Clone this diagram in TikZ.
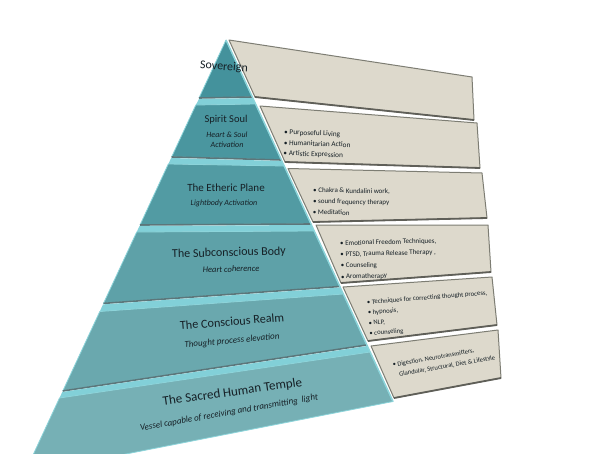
\documentclass[tikz,border=0pt]{standalone}
\usepackage{fontspec}
\setmainfont{Carlito}
\definecolor{tA}{RGB}{68,146,156}
\definecolor{tB}{RGB}{74,150,159}
\definecolor{tC}{RGB}{82,155,163}
\definecolor{tD}{RGB}{94,161,168}
\definecolor{tE}{RGB}{106,168,174}
\definecolor{tF}{RGB}{118,176,181}
\definecolor{stripecol}{RGB}{130,208,216}
\definecolor{tedge}{RGB}{140,212,218}
\definecolor{tshadow}{RGB}{92,118,122}
\definecolor{beige}{RGB}{221,217,204}
\definecolor{pedge}{RGB}{125,125,115}
\definecolor{pshadow}{RGB}{95,95,88}
\definecolor{txt}{RGB}{22,32,38}
\tikzset{
  band/.style={fill=#1, draw=tedge, line width=0.8pt, line join=round},
  bshadow/.style={draw=tshadow, line width=1.6pt},
  stripe/.style={fill=stripecol},
  panel/.style={fill=beige, draw=pedge, line width=1pt, line join=round},
  pbottom/.style={draw=pshadow, line width=1.8pt},
  ttl/.style={font=\fontsize{#1}{#1}\selectfont, text=txt, inner sep=0pt},
  sub/.style={font=\itshape\fontsize{#1}{#1}\selectfont, text=txt, inner sep=0pt},
  item/.style={font=\fontsize{#1}{#1}\selectfont, text=txt, anchor=base west, inner sep=0pt},
}
\begin{document}
\begin{tikzpicture}[x=1pt,y=-1pt]
\useasboundingbox (0,0) rectangle (604,453);
\clip (0,0) rectangle (604,453);
\fill[white] (0,0) rectangle (604,453);

% ---------- beige panels ----------
\path[panel] (229,40) -- (472,77) -- (474,120) -- (255,97) -- cycle;
\draw[pbottom] (255,97) -- (474,120);
\path[panel] (260,106) -- (477,123) -- (480,168) -- (285,162) -- cycle;
\draw[pbottom] (285,162) -- (480,168);
\path[panel] (288,168.5) -- (482,173) -- (487,218) -- (313,222) -- cycle;
\draw[pbottom] (313,222) -- (487,218);
\path[panel] (316,225) -- (488,225) -- (491,272) -- (341,283) -- cycle;
\draw[pbottom] (341,283) -- (491,272);
\path[panel] (343,287) -- (492,277) -- (497,325) -- (368,341) -- cycle;
\draw[pbottom] (368,341) -- (497,325);
\path[panel] (371,346) -- (498,330) -- (501,378) -- (394,398) -- cycle;
\draw[pbottom] (394,398) -- (501,378);

% ---------- teal pyramid bands ----------
\path[band=tA] (226,40) -- (252.3,97) -- (199,98) -- cycle;
\draw[bshadow] (199,98) -- (252.3,97);
\path[stripe] (199,99) -- (252.8,98) -- (255.6,104) -- (195.8,105) -- cycle;

\path[band=tB] (195.8,105) -- (255.6,104) -- (281.4,160) -- (171.6,157) -- cycle;
\draw[bshadow] (171.6,157) -- (281.4,160);
\path[stripe] (171.2,158) -- (281.8,161) -- (284.2,166) -- (168.3,164) -- cycle;

\path[band=tC] (168.3,164) -- (284.2,166) -- (311,224) -- (140,225) -- cycle;
\draw[bshadow] (140,225) -- (311,224);
\path[stripe] (139.5,226) -- (311.4,225) -- (314.2,231) -- (136.7,232) -- cycle;

\path[band=tD] (136.7,232) -- (314.2,231) -- (339.9,286.5) -- (103.5,303.4) -- cycle;
\draw[bshadow] (103.5,303.4) -- (339.9,286.5);
\path[stripe] (103,304.4) -- (340.4,287.5) -- (343.3,294) -- (99.8,311.5) -- cycle;

\path[band=tE] (99.8,311.5) -- (343.3,294) -- (366.6,345) -- (62.8,391) -- cycle;
\draw[bshadow] (62.8,391) -- (366.6,345);
\path[stripe] (62.3,392) -- (367.1,346) -- (370.1,352) -- (59.5,398) -- cycle;

\path[band=tF] (59.5,398) -- (370.1,352) -- (393,401.5) -- (24.2,474) -- cycle;

% light rim along the right edge of the pyramid
\draw[tedge, line width=1.4pt] (226,40) -- (393,401.5);

% ---------- pyramid texts ----------
\node[ttl=12, rotate=-4] (sov) at (224,67) {Sovereign};
\node[ttl=10.5] (sps) at (226,120) {Spirit Soul};
\node[sub=8] (spa) at (227,135) {Heart \& Soul};
\node[sub=8] (spb) at (227,144.5) {Activation};
\node[ttl=11] (eth) at (226,188) {The Etheric Plane};
\node[sub=8] (etha) at (224,203) {Lightbody Activation};
\node[ttl=12, rotate=1.5] (scb) at (229,253) {The Subconscious Body};
\node[sub=8.5, rotate=1.5] (scba) at (231,269) {Heart coherence};
\node[ttl=12.2, rotate=4.6] (csr) at (232,321.5) {The Conscious Realm};
\node[sub=9, rotate=5.3] (csra) at (232,341) {Thought process elevation};
\node[ttl=13, rotate=8] (sht) at (232.5,392.5) {The Sacred Human Temple};
\node[sub=9, rotate=10] (shta) at (229,413) {Vessel capable of receiving and transmitting \ light};

% ---------- panel texts ----------
\begin{scope}[shift={(284,134.5)}, rotate=-2, transform shape]
  \node[item=7.3] (p2a) at (0,0) {\textbullet\ Purposeful Living};
  \node[item=7.3] (p2b) at (0,10.5) {\textbullet\ Humanitarian Action};
  \node[item=7.3] (p2c) at (0,21) {\textbullet\ Artistic Expression};
\end{scope}
\begin{scope}[shift={(313,192.5)}, rotate=-1, transform shape]
  \node[item=7] (p3a) at (0,0) {\textbullet\ Chakra \& Kundalini work,};
  \node[item=7] (p3b) at (0,11) {\textbullet\ sound frequency therapy};
  \node[item=7] (p3c) at (0,22) {\textbullet\ Meditation};
\end{scope}
\begin{scope}[shift={(340,245.5)}, rotate=1.5, transform shape]
  \node[item=7] (p4a) at (0,0) {\textbullet\ Emotional Freedom Techniques,};
  \node[item=7] (p4b) at (0,11.2) {\textbullet\ PTSD, Trauma Release Therapy ,};
  \node[item=7] (p4c) at (0,22.4) {\textbullet\ Counseling};
  \node[item=7] (p4d) at (0,33.6) {\textbullet\ Aromatherapy};
\end{scope}
\begin{scope}[shift={(367,304.5)}, rotate=4.5, transform shape]
  \node[item=6.7] (p5a) at (0,0) {\textbullet\ Techniques\ for correcting thought process,};
  \node[item=6.7] (p5b) at (0,10.4) {\textbullet\ hypnosis,};
  \node[item=6.7] (p5c) at (0,20.8) {\textbullet\ NLP,};
  \node[item=6.7] (p5d) at (0,31.2) {\textbullet\ counseling};
\end{scope}
\begin{scope}[shift={(393,367)}, rotate=10, transform shape]
  \node[item=6.5] (p6a) at (0,0) {\textbullet\ Digestion, Neurotransmitters,};
  \node[item=6.5] (p6b) at (0,10.5) {\phantom{\textbullet\ }Glandular, Structural, Diet \& Lifestyle};
\end{scope}
\end{tikzpicture}
\end{document}
